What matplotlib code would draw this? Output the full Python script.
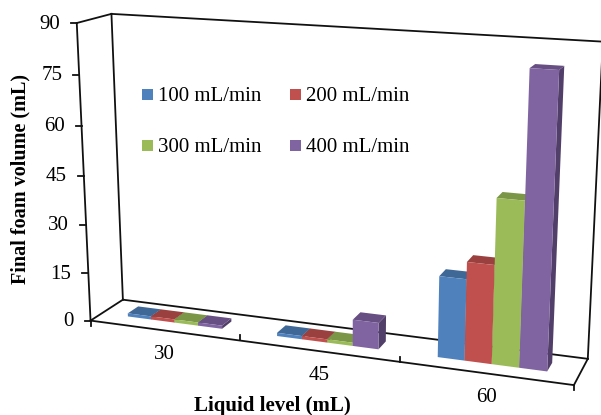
#!/usr/bin/env python3
# plot.py - Excel style 3D column chart, drawn with an explicit camera matrix

import numpy as np
import matplotlib
matplotlib.use('Agg')
import matplotlib.pyplot as plt
from matplotlib.patches import Polygon

plt.rcParams['font.family'] = ['Liberation Serif', 'DejaVu Serif']

# data
levels = ['30', '45', '60']
flow_names = ['100 mL/min', '200 mL/min', '300 mL/min', '400 mL/min']
flow_100 = [1, 1, 24]
flow_200 = [1, 1, 29]
flow_300 = [1, 1, 48]
flow_400 = [1, 8, 84]
y_ticks = [0, 15, 30, 45, 60, 75, 90]

front_cols = ['#4F81BD', '#C0504D', '#9BBB59', '#8064A2']
top_cols = ['#3F6897', '#9A403E', '#7C9647', '#674F83']
side_cols = ['#2F4E71', '#73302E', '#5D7035', '#523F69']
line_col = '#111111'

# camera: fit a 3x4 projection from the box corners seen in the picture
# (category position, value, depth) -> pixel
box_pts = [(0, 0, 0), (3, 0, 0), (0, 0, 1), (3, 0, 1), (0, 90, 0), (0, 90, 1), (3, 90, 1),
           (1, 0, 0), (2, 0, 0), (0, 45, 0)]
pix_pts = [(91, 320), (574, 385), (123, 300), (588, 358), (77, 23), (111, 14), (603, 42),
           (239, 342), (400, 362), (84, 175)]


def fit_camera(box, pix):
    rows = []
    for (x, y, z), (u, v) in zip(box, pix):
        y = y / 90
        rows.append([x, y, z, 1, 0, 0, 0, 0, -u * x, -u * y, -u * z, -u])
        rows.append([0, 0, 0, 0, x, y, z, 1, -v * x, -v * y, -v * z, -v])
    return np.linalg.svd(np.array(rows, float))[2][-1].reshape(3, 4)


cam = fit_camera(box_pts, pix_pts)


def proj(x, y, z):
    p = cam @ np.array([x, y / 90, z, 1.0])
    return p[0] / p[2], p[1] / p[2]


def main():
    fig = plt.figure(figsize=(6.01, 4.15), dpi=100)
    ax = fig.add_axes([0, 0, 1, 1])
    ax.set_xlim(0, 601)
    ax.set_ylim(415, 0)
    ax.axis('off')

    # walls and floor
    def edge(a, b):
        pa, pb = proj(*a), proj(*b)
        ax.plot([pa[0], pb[0]], [pa[1], pb[1]], color=line_col, lw=1.3, zorder=1,
                solid_capstyle='projecting')

    edge((0, 0, 0), (0, 90, 0))
    edge((0, 90, 0), (0, 90, 1))
    edge((0, 90, 1), (0, 0, 1))
    edge((0, 0, 1), (0, 0, 0))
    edge((0, 90, 1), (3, 90, 1))
    edge((3, 90, 1), (3, 0, 1))
    edge((3, 0, 1), (0, 0, 1))
    edge((0, 0, 0), (3, 0, 0))
    edge((3, 0, 0), (3, 0, 1))

    # ticks and their labels
    for v in y_ticks:
        u0, v0 = proj(0, v, 0)
        ax.plot([u0 - 6, u0], [v0, v0], color=line_col, lw=1.3, zorder=1)
        ax.text(u0 - 17, v0 + 1, str(v), ha='right', va='center', fontsize=15, color='black')
    for i in range(4):
        u0, v0 = proj(i, 0, 0)
        ax.plot([u0, u0], [v0, v0 + 5 if i in (0, 3) else v0 - 5], color=line_col, lw=1.3, zorder=1)
    for i, lab in enumerate(levels):
        u0, v0 = proj(i + 0.5, 0, 0)
        ax.text(u0 + 1, v0 + 24, lab, ha='center', va='center', fontsize=15)

    # columns
    series = [flow_100, flow_200, flow_300, flow_400]
    bar_w = 0.16
    x_start = 0.18
    z0, z1 = 0.35, 0.68
    for g in range(len(levels)):
        for s, vals in enumerate(series):
            x0 = g + x_start + s * bar_w
            x1 = x0 + bar_w
            h = vals[g]
            top = [proj(x0, h, z0), proj(x1, h, z0), proj(x1, h, z1), proj(x0, h, z1)]
            side = [proj(x1, 0, z0), proj(x1, 0, z1), proj(x1, h, z1), proj(x1, h, z0)]
            front = [proj(x0, 0, z0), proj(x1, 0, z0), proj(x1, h, z0), proj(x0, h, z0)]
            zo = 3 + g * 10 + s
            ax.add_patch(Polygon(side, fc=side_cols[s], ec='none', zorder=zo))
            ax.add_patch(Polygon(top, fc=top_cols[s], ec='none', zorder=zo))
            ax.add_patch(Polygon(front, fc=front_cols[s], ec='none', zorder=zo + 0.5))

    # legend
    leg_x = [142, 290, 142, 290]
    leg_y = [95, 95, 146, 146]
    for name, col, lx, ly in zip(flow_names, front_cols, leg_x, leg_y):
        ax.add_patch(Polygon([(lx, ly - 5.5), (lx + 11, ly - 5.5), (lx + 11, ly + 5.5), (lx, ly + 5.5)],
                             fc=col, ec='none', zorder=50))
        ax.text(lx + 16, ly + 1, name, ha='left', va='center', fontsize=15, zorder=50)

    # axis titles
    ax.text(20, 179, 'Final foam volume (mL)', rotation=90, ha='center', va='center',
            fontsize=14.5, fontweight='bold')
    ax.text(272, 406, 'Liquid level (mL)', ha='center', va='center', fontsize=15, fontweight='bold')

    fig.savefig('out.png', dpi=100)


if __name__ == '__main__':
    main()
